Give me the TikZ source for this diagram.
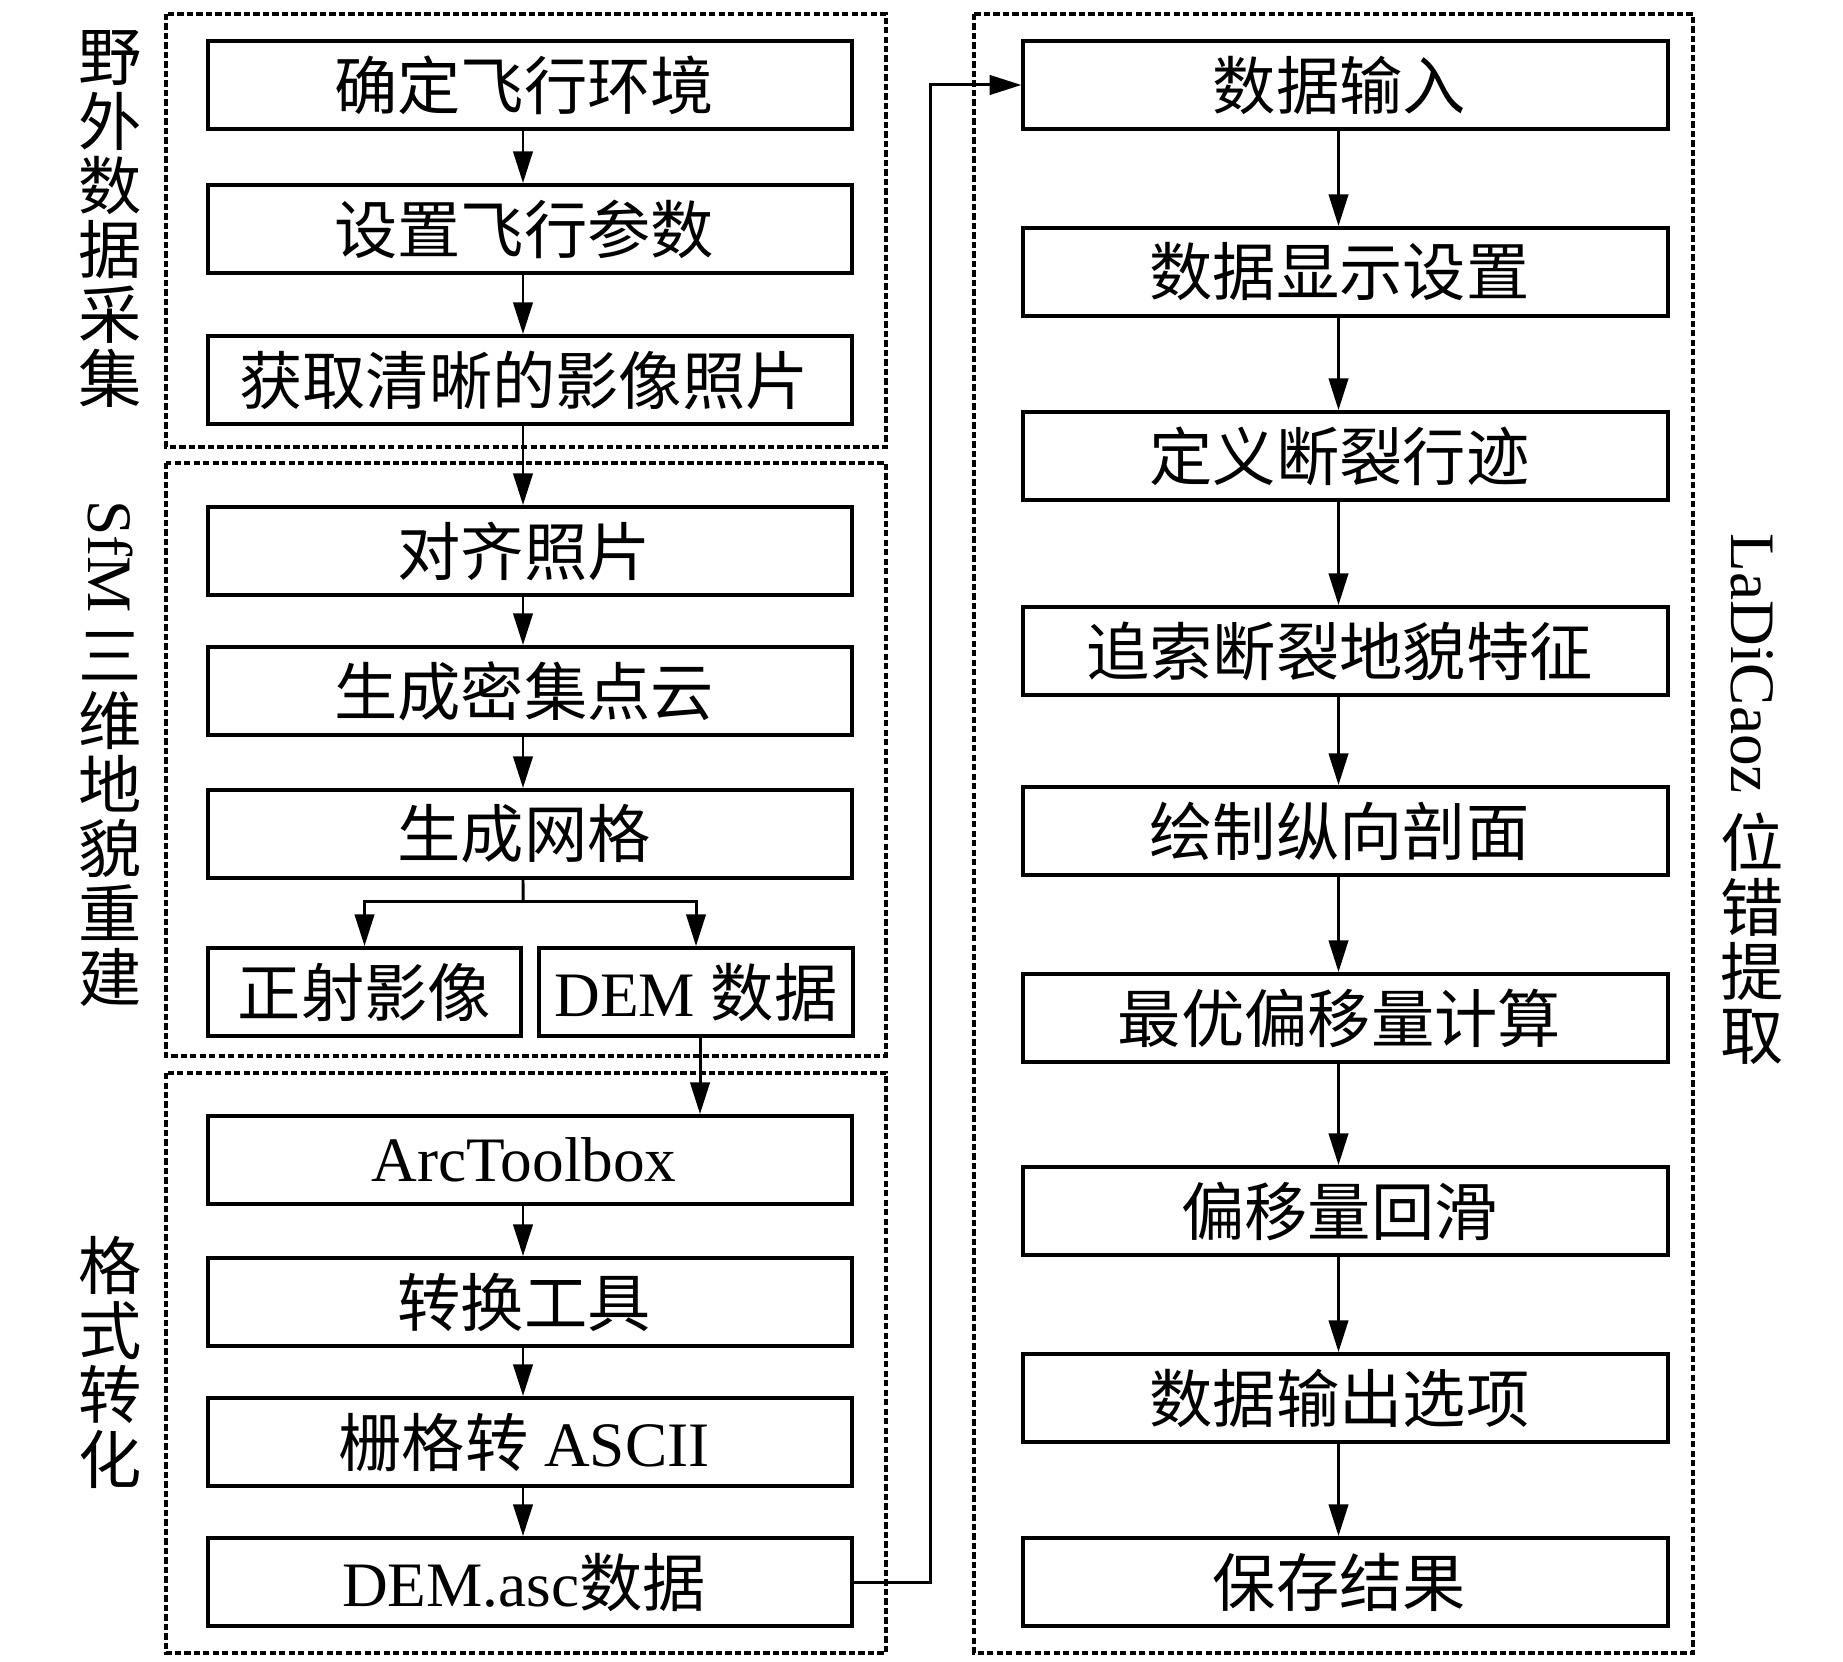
\documentclass[tikz,border=0pt]{standalone}
\usepackage{fontspec}
\setmainfont{Liberation Serif}
\newfontfamily\cjk{Noto Sans CJK SC}
\usepackage{graphicx}
\usetikzlibrary{arrows.meta}
\usetikzlibrary{positioning}
\newcommand{\zh}[1]{{\cjk #1}}
\tikzset{
    basebox/.style = {rectangle, draw=black, line width=1.1pt, minimum height=0.88cm, inner sep=0pt, font=\fontsize{18}{19}\selectfont},
    stepbox/.style = {basebox, minimum width=6.44cm, execute at begin node={\hspace*{-0.12cm}}},
    halfbox/.style = {basebox, minimum width=3.13cm},
    groupbox/.style = {draw=black, line width=0.95pt, dash pattern=on 1.8pt off 0.9pt},
    edgen/.style = {-{Triangle[length=9pt,width=5.5pt]}, line width=0.85pt},
    edgel/.style = {line width=0.85pt},
    sidelabel/.style = {align=center, inner sep=0pt, anchor=north, font=\fontsize{18}{18.3}\selectfont\cjk}
}
\begin{document}
\begin{tikzpicture}[x=0.01cm, y=-0.01cm]
\useasboundingbox (0,0) rectangle (1843,1661);
%
% dashed groups
\draw[groupbox] (166,14) rectangle (886,447);
\draw[groupbox] (166,463) rectangle (886,1056);
\draw[groupbox] (166,1073) rectangle (886,1653);
\draw[groupbox] (974,14) rectangle (1693,1653);
%
% group labels
\node[sidelabel] at (110,30) (lbla) {野\\外\\数\\据\\采\\集};
\node[sidelabel] at (110,500) (lblb) {\rotatebox{-90}{\rmfamily SfM\ }\\三\\维\\地\\貌\\重\\建};
\node[sidelabel] at (110,1236) (lblc) {格\\式\\转\\化};
\node[sidelabel] at (1752,533) (lbld) {\rotatebox{-90}{\rmfamily LaDiCaoz\ }\\位\\错\\提\\取};
%
% left column
\node[stepbox] at (530,85) (b1) {\zh{确定飞行环境}};
\node[stepbox] at (530,229) (b2) {\zh{设置飞行参数}};
\node[stepbox] at (530,380) (b3) {\zh{获取清晰的影像照片}};
\node[stepbox] at (530,551) (b4) {\zh{对齐照片}};
\node[stepbox] at (530,691) (b5) {\zh{生成密集点云}};
\node[stepbox] at (530,834) (b6) {\zh{生成网格}};
\node[halfbox] at (364.5,992) (zsyx) {\zh{正射影像}};
\node[halfbox] at (696,992) (demsj) {DEM \zh{数据}};
\node[stepbox] at (530,1160) (arc) {ArcToolbox};
\node[stepbox] at (530,1302) (zhgj) {\zh{转换工具}};
\node[stepbox] at (530,1442) (ascii) {\zh{栅格转} ASCII};
\node[stepbox] at (530,1582) (demasc) {DEM.asc\zh{数据}};
%
% right column
\node[stepbox] at (1345.5,85) (r1) {\zh{数据输入}};
\node[stepbox] at (1345.5,272) (r2) {\zh{数据显示设置}};
\node[stepbox] at (1345.5,456) (r3) {\zh{定义断裂行迹}};
\node[stepbox] at (1345.5,651) (r4) {\zh{追索断裂地貌特征}};
\node[stepbox] at (1345.5,831) (r5) {\zh{绘制纵向剖面}};
\node[stepbox] at (1345.5,1018) (r6) {\zh{最优偏移量计算}};
\node[stepbox] at (1345.5,1211) (r7) {\zh{偏移量回滑}};
\node[stepbox] at (1345.5,1398) (r8) {\zh{数据输出选项}};
\node[stepbox] at (1345.5,1582) (r9) {\zh{保存结果}};
%
\foreach \a/\b in {b1/b2, b2/b3, b3/b4, b4/b5, b5/b6, arc/zhgj, zhgj/ascii, ascii/demasc,
                   r1/r2, r2/r3, r3/r4, r4/r5, r5/r6, r6/r7, r7/r8, r8/r9}
    \draw[edgen] ([xshift=-0.07cm]\a.south) -- ([xshift=-0.07cm]\b.north);
%
\coordinate (split) at (523,901);
\draw[edgel] ([xshift=-0.07cm]b6.south) -- (split);
\draw[edgen] (split) -| (zsyx.north);
\draw[edgen] (split) -| (demsj.north);
\draw[edgen] ([xshift=0.04cm]demsj.south) -- ([xshift=0.04cm]demsj.south |- arc.north);
\draw[edgen] (demasc.east) -- ++(76,0) |- (r1.west);

\end{tikzpicture}
\end{document}
